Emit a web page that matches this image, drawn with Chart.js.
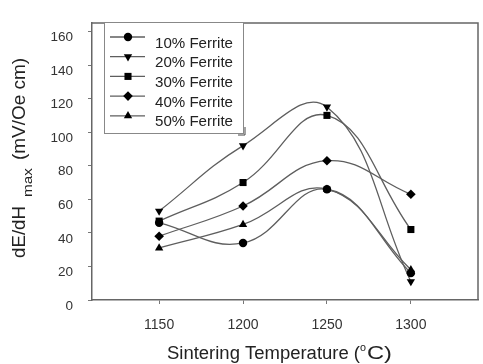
<!DOCTYPE html>
<html>
<head>
<meta charset="utf-8">
<script src="https://cdn.jsdelivr.net/npm/chart.js@4.4.1/dist/chart.umd.min.js"></script>
<style>
    html, body { margin: 0; padding: 0; background: #fff; }
    #wrap { width: 483px; height: 364px; }
</style>
</head>
<body>
<div id="wrap"><canvas id="Graph"></canvas></div>
<script>
var temps = [1150, 1200, 1250, 1300];
var ferrite10 = [46, 34, 66, 16];
var ferrite20 = [53, 92, 115, 11];
var ferrite30 = [47, 70, 110, 42];
var ferrite40 = [38, 56, 83, 63];
var ferrite50 = [31, 45, 66, 18];
var seriesNames = ["10% Ferrite", "20% Ferrite", "30% Ferrite", "40% Ferrite", "50% Ferrite"];
var xTicks = [1150, 1200, 1250, 1300];
var yTicks = [0, 20, 40, 60, 80, 100, 120, 140, 160];

var FONT = "'Liberation Sans', Arial, sans-serif";
var markers = [
    { style: "circle", rotation: 0, radius: 4.2 },
    { style: "triangle", rotation: 180, radius: 4.8 },
    { style: "rect", rotation: 0, radius: 5 },
    { style: "rectRot", rotation: 0, radius: 4.8 },
    { style: "triangle", rotation: 0, radius: 4.8 }
];

function makeDataset(index, values) {
    return {
        label: seriesNames[index],
        data: values.map(function (v, i) { return { x: temps[i], y: v }; }),
        borderColor: "#5e5e5e",
        borderWidth: 1.3,
        backgroundColor: "#000",
        pointBackgroundColor: "#000",
        pointBorderColor: "#000",
        pointBorderWidth: 0,
        pointRadius: markers[index].radius,
        pointStyle: markers[index].style,
        pointRotation: markers[index].rotation,
        tension: 0.42,
        fill: false
    };
}

// text squeezed/stretched horizontally so it covers a given width
function fitText(ctx, text, x, y, size, width) {
    ctx.font = size + "px " + FONT;
    var s = width / ctx.measureText(text).width;
    ctx.save();
    ctx.translate(x, y);
    ctx.scale(s, 1);
    ctx.fillText(text, 0, 0);
    ctx.restore();
}

// top and right frame lines
var framePlugin = {
    id: "frame",
    beforeDatasetsDraw: function (chart) {
        var ctx = chart.ctx, a = chart.chartArea;
        ctx.save();
        ctx.strokeStyle = "#666";
        ctx.lineWidth = 1.5;
        ctx.beginPath();
        ctx.moveTo(a.left, a.top);
        ctx.lineTo(a.right, a.top);
        ctx.lineTo(a.right, a.bottom);
        ctx.stroke();
        ctx.restore();
    }
};

// legend box with line + marker samples, and axis titles with sub/superscripts
var decorPlugin = {
    id: "decor",
    afterDraw: function (chart) {
        var ctx = chart.ctx;
        ctx.save();
        // legend
        ctx.fillStyle = "#fff";
        ctx.fillRect(104, 22, 139, 111);
        ctx.strokeStyle = "#888";
        ctx.lineWidth = 1;
        ctx.strokeRect(104.5, 22.5, 139, 111);
        ctx.strokeStyle = "#444";
        ctx.beginPath();
        ctx.moveTo(245, 127);
        ctx.lineTo(245, 135);
        ctx.lineTo(238, 135);
        ctx.stroke();
        seriesNames.forEach(function (name, i) {
            var y = 37 + i * 19.7;
            ctx.strokeStyle = "#5e5e5e";
            ctx.lineWidth = 1.3;
            ctx.beginPath();
            ctx.moveTo(110, y);
            ctx.lineTo(145, y);
            ctx.stroke();
            ctx.fillStyle = "#000";
            Chart.helpers.drawPoint(ctx, {
                pointStyle: markers[i].style,
                rotation: markers[i].rotation,
                radius: markers[i].radius,
                borderWidth: 0
            }, 128, y);
            ctx.fillStyle = "#222";
            ctx.textBaseline = "alphabetic";
            ctx.textAlign = "left";
            fitText(ctx, name, 155, y + 10.5, 14, 78);
        });

        // x title
        ctx.fillStyle = "#222";
        ctx.textBaseline = "alphabetic";
        fitText(ctx, "Sintering Temperature (", 167, 359, 18, 193);
        fitText(ctx, "o", 360, 351, 11, 6);
        fitText(ctx, "C)", 367, 359, 18, 25);

        // y title
        ctx.save();
        ctx.translate(25, 258);
        ctx.rotate(-Math.PI / 2);
        fitText(ctx, "dE/dH", 0, 0, 18, 52);
        fitText(ctx, "max", 61, 7, 13, 29);
        fitText(ctx, "(mV/Oe cm)", 98, 0, 18, 102);
        ctx.restore();
        ctx.restore();
    }
};

var context = document.getElementById("Graph").getContext("2d");
var chart = new Chart(context, {
    type: "line",
    data: {
        datasets: [
            makeDataset(0, ferrite10),
            makeDataset(1, ferrite20),
            makeDataset(2, ferrite30),
            makeDataset(3, ferrite40),
            makeDataset(4, ferrite50)
        ]
    },
    options: {
        responsive: true,
        maintainAspectRatio: false,
        animation: false,
        devicePixelRatio: 1,
        layout: { padding: { top: 18, right: 1, left: 0, bottom: 0 } },
        plugins: {
            legend: { display: false },
            tooltip: { enabled: false }
        },
        scales: {
            x: {
                type: "linear",
                min: 1110,
                max: 1340,
                afterBuildTicks: function (scale) {
                    scale.ticks = xTicks.map(function (v) { return { value: v }; });
                },
                afterFit: function (scale) { scale.height = 64; },
                grid: { display: true, drawOnChartArea: false, drawTicks: true, tickLength: 4, color: "#777" },
                border: { display: true, color: "#666", width: 1.5 },
                ticks: {
                    color: "#333", padding: 13, maxRotation: 0,
                    font: { family: FONT, size: 14 },
                    callback: function (value) { return String(value); }
                }
            },
            y: {
                min: 0,
                max: 165,
                afterBuildTicks: function (scale) {
                    scale.ticks = yTicks.map(function (v) { return { value: v }; });
                },
                afterFit: function (scale) { scale.width = 92; },
                grid: { display: true, drawOnChartArea: false, drawTicks: true, tickLength: 4, color: "#777" },
                border: { display: true, color: "#666", width: 1.5 },
                ticks: { color: "#333", padding: 15, labelOffset: 6, font: { family: FONT, size: 13.5 } }
            }
        }
    },
    plugins: [framePlugin, decorPlugin]
});
</script>
</body>
</html>
